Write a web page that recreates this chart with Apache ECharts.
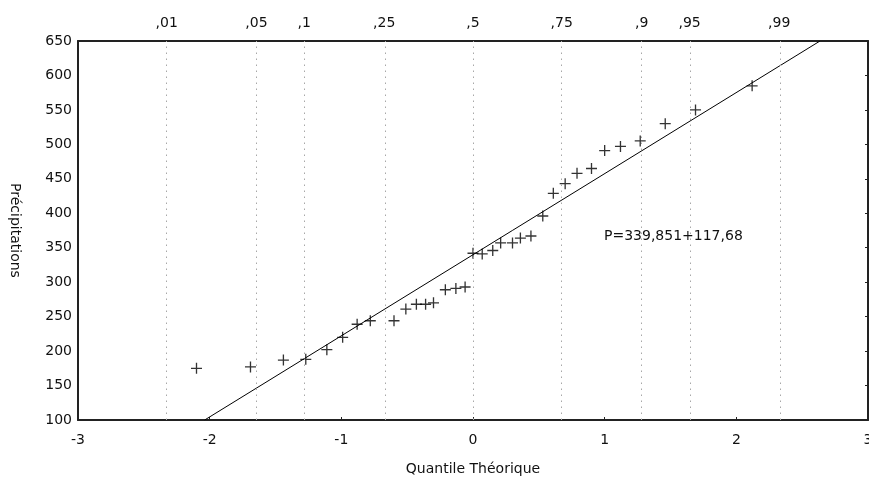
<!DOCTYPE html>
<html>
<head>
<meta charset="utf-8">
<script src="https://cdn.jsdelivr.net/npm/echarts@6/dist/echarts.min.js"></script>
<style>html,body{margin:0;padding:0;background:#fff;overflow:hidden;}#c{width:869px;height:487px;}</style>
</head>
<body>
<div id="c"></div>
<script>
// Theoretical quantiles (x) and observed precipitation (y)
var theoQuantiles = [-2.10, -1.69, -1.44, -1.27, -1.11, -0.99, -0.88, -0.78, -0.60, -0.51,
  -0.43, -0.36, -0.30, -0.21, -0.13, -0.06, 0.00, 0.07, 0.15, 0.21, 0.30, 0.36, 0.44,
  0.53, 0.61, 0.70, 0.79, 0.90, 1.00, 1.12, 1.27, 1.46, 1.69, 2.12];
var precipitation = [175, 177, 187, 188, 202, 220, 239, 244, 244, 261,
  268, 268, 270, 289, 291, 293, 342, 341, 346, 357, 357, 364, 367,
  396, 429, 443, 458, 465, 491, 497, 505, 530, 550, 585];
// Fitted line P = INTERCEPT + SLOPE * x
var INTERCEPT = 339.851;
var SLOPE = 117.68;
var fitLabel = 'P=339,851+117,68';
// Probability scale (top axis)
var probQuantiles = [-2.326, -1.645, -1.282, -0.674, 0, 0.674, 1.282, 1.645, 2.326];
var probLabels = [',01', ',05', ',1', ',25', ',5', ',75', ',9', ',95', ',99'];
var yMin = 100, yMax = 650, yStep = 50;

var points = theoQuantiles.map(function (x, i) { return [x, precipitation[i]]; });
var fitLine = [[(yMin - INTERCEPT) / SLOPE, yMin], [(yMax - INTERCEPT) / SLOPE, yMax]];

var FONT = 'DejaVu Sans';
var FS = 14;
var chart = echarts.init(document.getElementById('c'), null, {renderer: 'canvas'});
chart.setOption({
  backgroundColor: '#fff',
  animation: false,
  grid: {left: 78, right: 1, top: 41, bottom: 67, containLabel: false, outerBoundsMode: 'none'},
  xAxis: [{
    type: 'value', min: -3, max: 3, interval: 1, position: 'bottom',
    name: 'Quantile Théorique', nameLocation: 'middle', nameGap: 42,
    nameTextStyle: {color: '#111', fontFamily: FONT, fontSize: FS},
    axisLine: {show: true, onZero: false, lineStyle: {color: '#222', width: 2}},
    axisTick: {show: true, inside: true, length: 3, lineStyle: {color: '#222'}},
    axisLabel: {color: '#111', fontFamily: FONT, fontSize: FS, margin: 13},
    splitLine: {show: false}
  }, {
    type: 'value', min: -3, max: 3, position: 'top',
    axisLine: {show: true, onZero: false, lineStyle: {color: '#222', width: 2}},
    axisTick: {show: false},
    axisLabel: {
      show: true, color: '#111', fontFamily: FONT, fontSize: FS, margin: 11,
      customValues: probQuantiles,
      formatter: function (v) {
        for (var i = 0; i < probQuantiles.length; i++) {
          if (Math.abs(probQuantiles[i] - v) < 1e-6) return probLabels[i];
        }
        return '';
      }
    },
    splitLine: {show: false}
  }],
  yAxis: [{
    type: 'value', min: yMin, max: yMax, interval: yStep, position: 'left',
    name: 'Précipitations', nameLocation: 'middle', nameGap: 56, nameRotate: -90,
    nameTextStyle: {color: '#111', fontFamily: FONT, fontSize: FS},
    axisLine: {show: true, onZero: false, lineStyle: {color: '#222', width: 2}},
    axisTick: {show: false},
    axisLabel: {color: '#111', fontFamily: FONT, fontSize: FS, margin: 6},
    splitLine: {show: false}
  }, {
    type: 'value', min: yMin, max: yMax, interval: yStep, position: 'right',
    axisLine: {show: true, onZero: false, lineStyle: {color: '#222', width: 2}},
    axisTick: {show: true, inside: true, length: 3, lineStyle: {color: '#222'}},
    axisLabel: {show: false},
    splitLine: {show: false}
  }],
  series: [{
    type: 'line',
    data: fitLine,
    showSymbol: false,
    symbol: 'none',
    lineStyle: {color: '#000', width: 1},
    silent: true,
    z: 3
  }, {
    type: 'scatter',
    data: points,
    symbol: 'path://M4.4,0h1.2v4.4h4.4v1.2h-4.4v4.4h-1.2v-4.4h-4.4v-1.2h4.4z',
    symbolSize: 11,
    itemStyle: {color: '#000'},
    z: 4,
    markLine: {
      silent: true,
      symbol: ['none', 'none'],
      label: {show: false},
      lineStyle: {type: [1.5, 4.5], color: '#a8a8a8', width: 1},
      data: probQuantiles.map(function (q) { return {xAxis: q}; })
    }
  }],
  graphic: [{
    type: 'text', left: 604, top: 229,
    style: {text: fitLabel, fill: '#111', font: FS + 'px "DejaVu Sans"'}
  }]
});
</script>
</body>
</html>
